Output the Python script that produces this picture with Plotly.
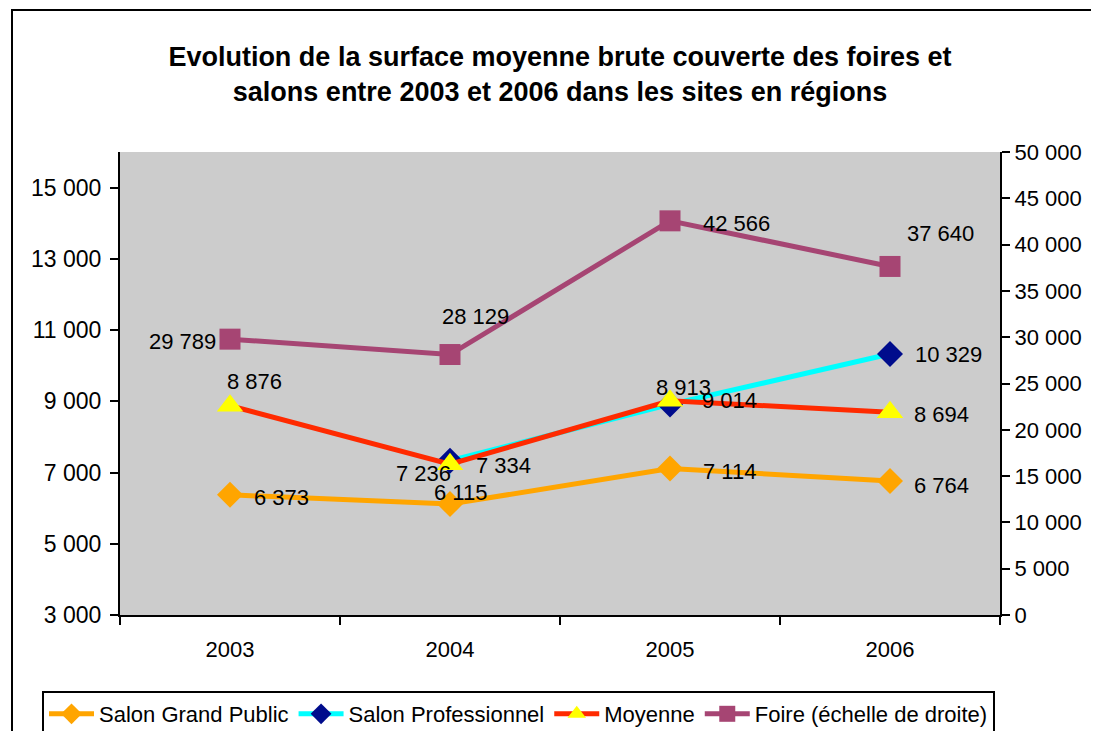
import plotly.graph_objects as go

years = ["2003", "2004", "2005", "2006"]
grand_public = [6373, 6115, 7114, 6764]
professionnel = [None, 7334, 8913, 10329]
moyenne = [8876, 7236, 9014, 8694]
foire = [29789, 28129, 42566, 37640]

left_ticks = [3000, 5000, 7000, 9000, 11000, 13000, 15000]
right_ticks = [0, 5000, 10000, 15000, 20000, 25000, 30000, 35000, 40000, 45000, 50000]

# label offsets (pixels) relative to each point: (xshift, yshift)
gp_off = [(51, -3), (10, 12), (59, -3), (51, -5)]
pro_off = [(0, 0), (53, -5), (13, 17), (58, -1)]
moy_off = [(24, 24), (-27, -9), (59, 0), (51, -2)]
foire_off = [(-48, -2), (25, 38), (66, -3), (50, 33)]

FONT = "Liberation Sans, Arial, sans-serif"
tf = dict(family=FONT, size=22, color="black")

def fmt(v):
    return f"{v:,}".replace(",", " ")

fig = go.Figure()
fig.add_trace(go.Scatter(
    x=years, y=grand_public, name="Salon Grand Public", mode="lines+markers",
    line=dict(color="#FFA500", width=5),
    marker=dict(symbol="diamond", size=20, color="#FFA500"),
))
fig.add_trace(go.Scatter(
    x=years, y=professionnel, name="Salon Professionnel", mode="lines+markers",
    line=dict(color="#00FFFF", width=5),
    marker=dict(symbol="diamond", size=20, color="#000C8C"),
))
fig.add_trace(go.Scatter(
    x=years, y=moyenne, name="Moyenne", mode="lines+markers",
    line=dict(color="#FF2A00", width=5),
    marker=dict(symbol="triangle-up", size=23, color="#FFFF00"),
))
fig.add_trace(go.Scatter(
    x=years, y=foire, name="Foire (échelle de droite)", mode="lines+markers",
    yaxis="y2",
    line=dict(color="#A64573", width=5),
    marker=dict(symbol="square", size=21, color="#A64573"),
))

annotations = []
for vals, offs, yref in [(grand_public, gp_off, "y"), (professionnel, pro_off, "y"),
                         (moyenne, moy_off, "y"), (foire, foire_off, "y2")]:
    for i, (v, (dx, dy)) in enumerate(zip(vals, offs)):
        if v is None:
            continue
        annotations.append(dict(
            x=i, y=v, xref="x", yref=yref, text=fmt(v), showarrow=False,
            xshift=dx, yshift=dy, font=tf, xanchor="center", yanchor="middle",
        ))

W, H, OFF = 1099, 731, 8
fig.update_layout(
    width=W - OFF, height=H - OFF,
    margin=dict(l=120 - OFF, r=99, t=152 - OFF, b=116, autoexpand=False),
    paper_bgcolor="white", plot_bgcolor="#CCCCCC",
    separators=", ",
    font=dict(family=FONT, size=22, color="black"),
    title=dict(
        text="<b>Evolution de la surface moyenne brute couverte des foires et<br>salons entre 2003 et 2006 dans les sites en régions</b>",
        x=0.5, xref="paper", xanchor="center",
        y=1 - (66 - OFF) / (H - OFF), yref="container", yanchor="middle",
        font=dict(family=FONT, size=27, color="black"),
    ),
    xaxis=dict(
        type="category", range=[-0.5, 3.5], showgrid=False, automargin=False,
        showline=True, linecolor="black", linewidth=2,
        ticks="outside", tickson="boundaries", ticklen=8, tickcolor="black", tickwidth=2,
        tickfont=tf, zeroline=False, ticklabelstandoff=14,
    ),
    yaxis=dict(
        range=[3000, 16000], tickvals=left_ticks, tickformat=",d", automargin=False,
        showgrid=False, showline=True, linecolor="black", linewidth=2,
        ticks="outside", ticklen=8, tickcolor="black", tickwidth=2,
        tickfont=dict(family=FONT, size=23, color="black"), zeroline=False,
        ticklabelstandoff=4,
    ),
    yaxis2=dict(
        range=[0, 50000], tickvals=right_ticks, tickformat=",d", automargin=False,
        overlaying="y", side="right",
        showgrid=False, showline=True, linecolor="black", linewidth=2,
        ticks="outside", ticklen=8, tickcolor="black", tickwidth=2,
        tickfont=dict(family=FONT, size=22, color="black"), zeroline=False,
    ),
    legend=dict(
        orientation="h", xref="paper", yref="paper",
        x=(42 - 120) / 880, xanchor="left",
        y=(615 - 691) / 463, yanchor="top",
        bordercolor="black", borderwidth=2, bgcolor="white",
        font=dict(family=FONT, size=22, color="black"),
        itemwidth=45, tracegroupgap=0,
    ),
    annotations=annotations,
    shapes=[dict(
        type="rect", xref="paper", yref="paper",
        x0=(12 - 120) / 880, x1=(1110 - 120) / 880,
        y0=(615 - 745) / 463, y1=(615 - 10) / 463,
        line=dict(color="black", width=2), fillcolor="rgba(0,0,0,0)", layer="below",
    )],
)

fig.write_html("out.html")
